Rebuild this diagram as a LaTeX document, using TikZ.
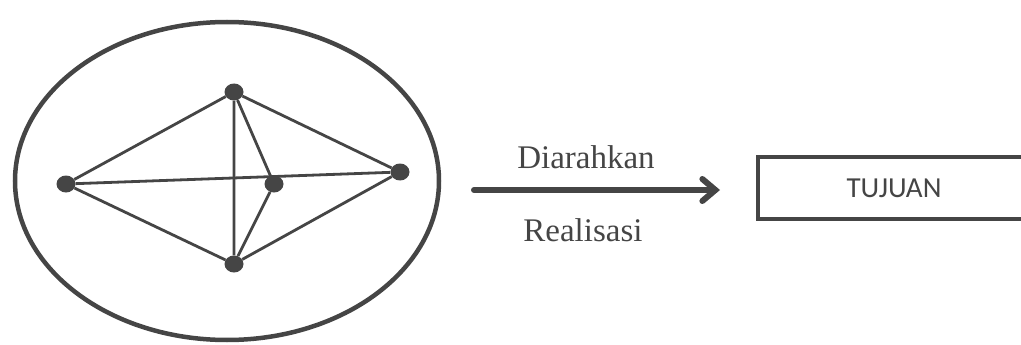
\documentclass[tikz,border=0pt]{standalone}
\usepackage{fontspec}
\setmainfont{Liberation Serif}
\newfontfamily\boxfont{Carlito}
\usetikzlibrary{arrows.meta,shapes.geometric}
\definecolor{ink}{HTML}{454545}
\tikzset{
  dot/.style={ellipse,fill=ink,inner sep=0pt,minimum width=19pt,minimum height=17pt},
  edge/.style={draw=ink,line width=2.8pt},
}
\begin{document}
\begin{tikzpicture}[x=1pt,y=-1pt]
\useasboundingbox (0,0) rectangle (1021,345);
\clip (0,0) rectangle (1021,345);
% outer ellipse
\draw[ink,line width=4.5pt] (227,181) ellipse [x radius=212,y radius=159];
% graph
\node[dot] (top) at (234,92) {};
\node[dot] (left) at (66,184) {};
\node[dot] (right) at (400,172) {};
\node[dot] (mid) at (274,184) {};
\node[dot] (bot) at (234,264) {};
\draw[edge] (top) -- (left) -- (bot) -- (right) -- (top) -- (bot);
\draw[edge] (left) -- (right);
\draw[edge] (top) -- (mid) -- (bot);
% arrow and labels
\coordinate (a0) at (474,190);
\node[inner sep=0pt] (goal) at (894,188) [draw=ink,line width=4pt,minimum width=272pt,minimum height=62pt,font=\boxfont\fontsize{29}{30}\selectfont,text=ink] {TUJUAN};
\coordinate (a1) at (720,190);
\draw[ink,line width=6pt,line cap=round,-{Straight Barb[length=13pt,width=22pt,line cap=round]}] (a0) -- (a1);
\node[text=ink,font=\fontsize{33}{36}\selectfont] (dir) at (586,157) {Diarahkan};
\node[text=ink,font=\fontsize{33}{36}\selectfont] (real) at (583,230) {Realisasi};
\end{tikzpicture}
\end{document}
